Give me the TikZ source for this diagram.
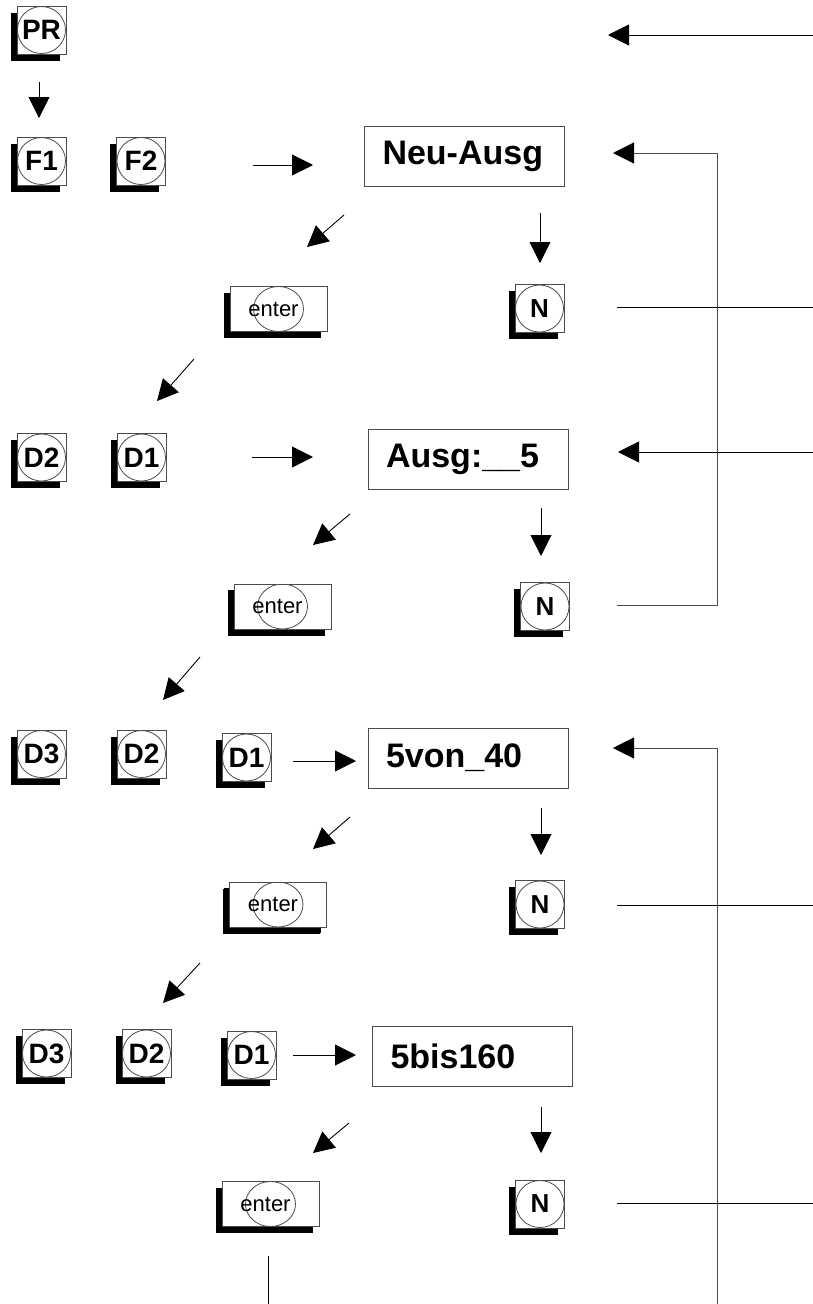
\documentclass[tikz,border=0pt]{standalone}
\usepackage{fontspec}
\setmainfont{Liberation Sans}
\usetikzlibrary{arrows.meta,shadows,positioning}

\begin{document}
\begin{tikzpicture}[x=1pt,y=-1pt,
    spitze/.tip={Triangle[length=21pt,width=21pt,color=black,fill=black]},
    pfeil/.style={-spitze,line width=0.9pt},
    linie/.style={line width=0.9pt},
    rueck/.style={line width=0.9pt,draw=black!70},
    taste/.style={rectangle,draw=black!70,line width=0.9pt,fill=white,inner sep=0pt,
        minimum width=49pt,minimum height=48pt,
        font=\bfseries\fontsize{28}{28}\selectfont,
        drop shadow={shadow xshift=-6.5pt,shadow yshift=-6.5pt,fill=black,opacity=1},
        path picture={\draw[line width=0.8pt] (path picture bounding box.center) ellipse (24pt and 23.5pt);}},
    enter/.style={taste,minimum width=97pt,minimum height=45pt,
        font=\fontsize{22}{22}\selectfont,
        drop shadow={shadow xshift=-6pt,shadow yshift=-6pt,fill=black,opacity=1},
        path picture={\draw[line width=0.8pt] (path picture bounding box.center) ellipse (25pt and 22.5pt);}},
    anzeige/.style={rectangle,draw=black!70,line width=0.9pt,minimum height=60pt,
        text width=164pt,align=left,inner xsep=18pt,
        font=\bfseries\fontsize{34}{36}\selectfont}]
  \useasboundingbox (0,0) rectangle (813,1304);

  % Programmieren
  \node[taste] (pr) at (41.5,30) {PR};
  \coordinate (r0) at (813,35);
  \coordinate (t0) at (608,35);
  \draw[pfeil] (r0) -- (t0);
  \coordinate (a0) at (39,82);
  \coordinate (b0) at (39,118);
  \draw[pfeil] (a0) -- (b0);

  % Neu-Ausg
  \node[taste] (f1) at (41.5,161) {F1};
  \node[taste] (f2) at (141,161) {F2};
  \node[anzeige] (neu) at (464.5,156.5) {Neu-Ausg};
  \coordinate (a1) at (253,165);
  \coordinate (b1) at (313,165);
  \draw[pfeil] (a1) -- (b1);
  \coordinate (s1) at (344,215);
  \coordinate (z1) at (307,247);
  \draw[pfeil] (s1) -- (z1);
  \coordinate (u1) at (540,213);
  \coordinate (v1) at (540,263);
  \draw[pfeil] (u1) -- (v1);
  \node[enter] (ent1) at (278.5,309) {enter\hspace*{10pt}};
  \node[taste] (n1) at (539.5,308.5) {\fontsize{26}{26}\selectfont N};
  \coordinate (q1) at (617,307);
  \coordinate (r1) at (813,307);
  \draw[linie] (q1) -- (r1);
  \coordinate (s2) at (194,359);
  \coordinate (z2) at (157,401);
  \draw[pfeil] (s2) -- (z2);

  % Ausgang
  \node[taste] (d2a) at (41.5,457.5) {D2};
  \node[taste] (d1a) at (141.5,457.5) {D1};
  \node[anzeige] (ausg) at (468,459.5) {Ausg:\_\_5};
  \coordinate (a2) at (252,457);
  \coordinate (b2) at (313,457);
  \draw[pfeil] (a2) -- (b2);
  \coordinate (r2) at (813,452);
  \coordinate (t2) at (618,452);
  \draw[pfeil] (r2) -- (t2);
  \coordinate (s3) at (350,514);
  \coordinate (z3) at (313,545);
  \draw[pfeil] (s3) -- (z3);
  \coordinate (u2) at (541,508);
  \coordinate (v2) at (541,556);
  \draw[pfeil] (u2) -- (v2);
  \node[enter] (ent2) at (282.5,606.5) {enter\hspace*{10pt}};
  \node[taste] (n2) at (545,606.5) {\fontsize{26}{26}\selectfont N};
  \coordinate (q2) at (617,605);
  \coordinate (k1) at (717,153);
  \coordinate (t1) at (613,153);
  \draw[rueck,-spitze] (q2) -| (k1) -- (t1);
  \coordinate (s4) at (200,657);
  \coordinate (z4) at (163,700);
  \draw[pfeil] (s4) -- (z4);

  % von
  \node[taste] (d3b) at (41.5,754) {D3};
  \node[taste] (d2b) at (141.5,754) {D2};
  \node[taste] (d1b) at (246.5,757.5) {D1};
  \node[anzeige] (von) at (468,758) {5von\_40};
  \coordinate (a3) at (293,761);
  \coordinate (b3) at (356,761);
  \draw[pfeil] (a3) -- (b3);
  \coordinate (unten) at (717,1304);
  \coordinate (k2) at (717,748);
  \coordinate (t3) at (613,748);
  \draw[rueck,-spitze] (unten) -- (k2) -- (t3);
  \coordinate (s5) at (350,817);
  \coordinate (z5) at (313,849);
  \draw[pfeil] (s5) -- (z5);
  \coordinate (u3) at (541,808);
  \coordinate (v3) at (541,855);
  \draw[pfeil] (u3) -- (v3);
  \node[enter] (ent3) at (278,904.5) {enter\hspace*{10pt}};
  \node[taste] (n3) at (540,904.5) {\fontsize{26}{26}\selectfont N};
  \coordinate (q3) at (617,905);
  \coordinate (r3) at (813,905);
  \draw[linie] (q3) -- (r3);
  \coordinate (s6) at (200,963);
  \coordinate (z6) at (163,1003);
  \draw[pfeil] (s6) -- (z6);

  % bis
  \node[taste] (d3c) at (46.5,1053.5) {D3};
  \node[taste] (d2c) at (146.5,1053.5) {D2};
  \node[taste] (d1c) at (251.5,1055) {D1};
  \node[anzeige] (bis) at (472.5,1056) {5bis160};
  \coordinate (a4) at (293,1055);
  \coordinate (b4) at (356,1055);
  \draw[pfeil] (a4) -- (b4);
  \coordinate (s7) at (349,1123);
  \coordinate (z7) at (313,1153);
  \draw[pfeil] (s7) -- (z7);
  \coordinate (u4) at (541,1107);
  \coordinate (v4) at (541,1153);
  \draw[pfeil] (u4) -- (v4);
  \node[enter] (ent4) at (270.5,1204) {enter\hspace*{10pt}};
  \node[taste] (n4) at (540,1204) {\fontsize{26}{26}\selectfont N};
  \coordinate (q4) at (617,1203);
  \coordinate (r4) at (813,1203);
  \draw[linie] (q4) -- (r4);
  \coordinate (w4) at (268,1256);
  \draw[linie] (w4) -- (w4 |- unten);
\end{tikzpicture}
\end{document}
